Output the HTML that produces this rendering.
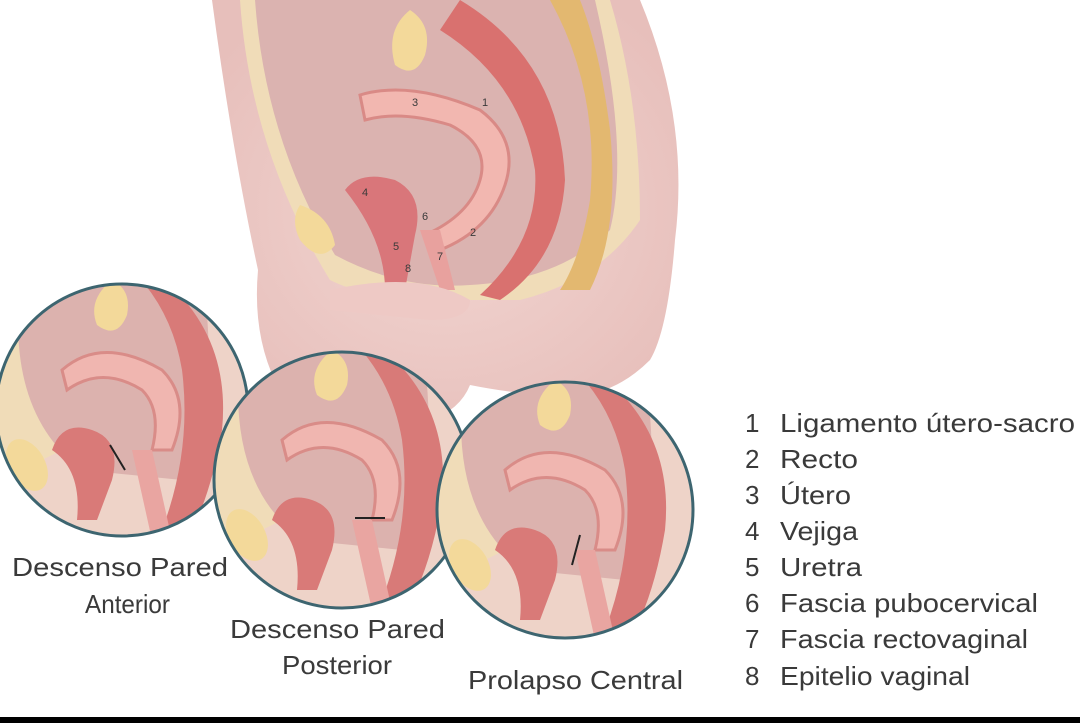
<!DOCTYPE html>
<html><head><meta charset="utf-8"><style>
html,body{margin:0;padding:0;background:#fff;width:1080px;height:723px;overflow:hidden}
svg text{font-family:"Liberation Sans",sans-serif;fill:#3a3a3a}
</style></head><body>
<svg width="1080" height="723" viewBox="0 0 1080 723" xmlns="http://www.w3.org/2000/svg">
<defs>
<radialGradient id="sk" cx="0.5" cy="0.5" r="0.6"><stop offset="0" stop-color="#f2d6d2"/><stop offset="1" stop-color="#e7bfbb"/></radialGradient>
<clipPath id="c1"><circle cx="122" cy="410" r="126"/></clipPath>
<clipPath id="c2"><circle cx="342" cy="480" r="128"/></clipPath>
<clipPath id="c3"><circle cx="565" cy="510" r="128"/></clipPath>
<g id="pelvis">
 <rect x="-140" y="-140" width="280" height="280" fill="#eed3c8"/>
 <path d="M-140,-140 L20,-140 Q-40,-60 -60,40 L-140,80Z" fill="#f0dcb8"/>
 <path d="M-100,-140 Q-120,0 -40,60 L60,70 Q100,0 80,-140Z" fill="#dcb2ae"/>
 <path d="M30,-140 Q110,-80 100,20 Q90,80 70,120 L40,120 Q70,40 60,-40 Q50,-100 10,-140Z" fill="#d87a78"/>
 <path d="M-10,-130 q-25,20 -15,45 q20,15 30,-10 q5,-25 -15,-35Z" fill="#f3d99a"/>
 <path d="M-60,-40 Q-20,-75 40,-40 Q70,-10 50,40 L30,40 Q40,0 20,-20 Q-20,-45 -55,-20Z" fill="#f0b6b0" stroke="#d98c88" stroke-width="3"/>
 <path d="M-70,40 Q-60,10 -30,20 Q0,30 -10,70 L-25,110 L-45,110 Q-40,60 -70,40Z" fill="#d97a78"/>
 <ellipse cx="-95" cy="55" rx="18" ry="28" fill="#f3d99a" transform="rotate(-30 -95 55)"/>
 <path d="M10,40 L30,130 L50,130 L30,40Z" fill="#e9a5a1"/>
</g>
</defs>

<path d="M212,0 L640,0 Q690,120 675,240 Q668,330 650,360 Q610,400 560,395 Q520,395 470,385 Q460,410 430,420 L300,420 Q250,360 258,270 Q232,150 212,0Z" fill="url(#sk)"/>
<path d="M240,0 Q250,150 330,280 Q380,305 470,300 L520,300 Q600,280 640,220 Q640,100 610,0Z" fill="#f0dcb8"/>
<path d="M255,0 Q265,140 335,255 Q400,290 470,285 Q560,280 610,230 Q630,150 595,0Z" fill="#dbb3b0"/>
<path d="M550,0 Q600,90 590,200 Q580,260 560,290 L590,290 Q620,230 610,130 Q600,50 580,0Z" fill="#e3b870"/>
<path d="M460,0 Q560,60 565,180 Q560,260 500,300 L480,295 Q540,240 535,170 Q520,80 440,30Z" fill="#d9716f"/>
<path d="M410,10 q-25,20 -15,55 q20,15 30,-10 q8,-30 -15,-45Z" fill="#f3d99a"/>
<path d="M360,95 Q410,80 480,110 Q520,140 505,185 Q490,230 440,250 L425,235 Q470,215 480,180 Q490,145 450,125 Q400,110 365,120Z" fill="#f2b7b0" stroke="#d98a86" stroke-width="3"/>
<path d="M345,190 Q360,170 395,180 Q425,195 415,235 L405,290 L385,290 Q385,240 345,190Z" fill="#d9767a"/>
<path d="M420,230 L440,290 L455,290 L440,230Z" fill="#e8a19e"/>
<path d="M300,205 q30,10 35,40 q-15,20 -35,-5 q-10,-20 0,-35Z" fill="#f3d99a"/>
<path d="M330,290 Q420,270 470,300 Q470,320 430,320 L330,310Z" fill="#eec9c5"/>
<text x="412" y="106" font-size="11">3</text><text x="482" y="106" font-size="11">1</text>
<text x="362" y="196" font-size="11">4</text><text x="422" y="220" font-size="11">6</text>
<text x="393" y="250" font-size="11">5</text><text x="437" y="260" font-size="11">7</text>
<text x="470" y="236" font-size="11">2</text><text x="405" y="272" font-size="11">8</text>

<g clip-path="url(#c1)"><use href="#pelvis" transform="translate(122,410)"/></g>
<circle cx="122" cy="410" r="126" fill="none" stroke="#3d6570" stroke-width="3"/>
<g clip-path="url(#c2)"><use href="#pelvis" transform="translate(342,480)"/></g>
<circle cx="342" cy="480" r="128" fill="none" stroke="#3d6570" stroke-width="3"/>
<g clip-path="url(#c3)"><use href="#pelvis" transform="translate(565,510)"/></g>
<circle cx="565" cy="510" r="128" fill="none" stroke="#3d6570" stroke-width="3"/>
<path d="M110,445 L125,470" stroke="#222" stroke-width="2"/>
<path d="M385,518 L355,518" stroke="#222" stroke-width="2"/>
<path d="M580,535 L572,565" stroke="#222" stroke-width="2"/>

<g font-size="26">
<text x="12" y="576" textLength="216" lengthAdjust="spacingAndGlyphs">Descenso Pared</text>
<text x="85" y="613" textLength="85" lengthAdjust="spacingAndGlyphs">Anterior</text>
<text x="230" y="638" textLength="215" lengthAdjust="spacingAndGlyphs">Descenso Pared</text>
<text x="282" y="674" textLength="110" lengthAdjust="spacingAndGlyphs">Posterior</text>
<text x="468" y="689" textLength="215" lengthAdjust="spacingAndGlyphs">Prolapso Central</text>
</g>
<g font-size="26">
<text x="745" y="432">1</text><text x="780" y="432" textLength="295" lengthAdjust="spacingAndGlyphs">Ligamento útero-sacro</text>
<text x="745" y="468">2</text><text x="780" y="468" textLength="78" lengthAdjust="spacingAndGlyphs">Recto</text>
<text x="745" y="504">3</text><text x="780" y="504" textLength="71" lengthAdjust="spacingAndGlyphs">Útero</text>
<text x="745" y="540">4</text><text x="780" y="540" textLength="78" lengthAdjust="spacingAndGlyphs">Vejiga</text>
<text x="745" y="576">5</text><text x="780" y="576" textLength="82" lengthAdjust="spacingAndGlyphs">Uretra</text>
<text x="745" y="612">6</text><text x="780" y="612" textLength="258" lengthAdjust="spacingAndGlyphs">Fascia pubocervical</text>
<text x="745" y="648">7</text><text x="780" y="648" textLength="248" lengthAdjust="spacingAndGlyphs">Fascia rectovaginal</text>
<text x="745" y="685">8</text><text x="780" y="685" textLength="190" lengthAdjust="spacingAndGlyphs">Epitelio vaginal</text>
</g>
<rect x="0" y="717" width="1080" height="6" fill="#000"/>
</svg>
</body></html>
